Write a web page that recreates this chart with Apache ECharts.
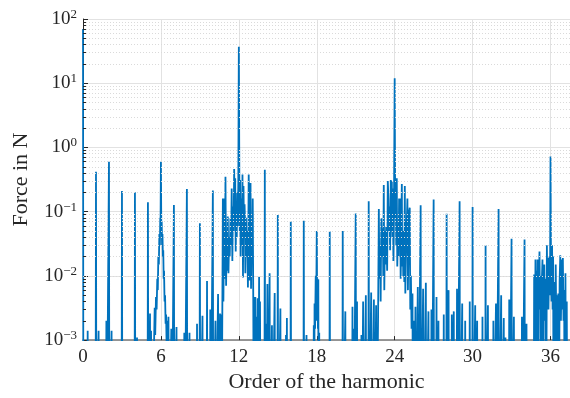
<!DOCTYPE html>
<html><head><meta charset="utf-8">
<script src="https://cdn.jsdelivr.net/npm/echarts@6/dist/echarts.min.js"></script>
<style>html,body{margin:0;padding:0;background:#fff}#c{width:570px;height:398px}</style>
</head><body><div id="c"></div>
<script>
const F = 1e-5; // below the axis floor (clipped)
const xTickStep = 6;
const xMax = 37.5;
const yMin = 0.001, yMax = 100;

// [order of harmonic, force in N]
const bandLow = [[0,70],[0.03,F],[0.33,F],[0.36,0.0014],[0.39,F],[0.97,F],[1,0.42],[1.03,F],[1.17,F],[1.2,0.0014],[1.23,F],
 [1.77,F],[1.8,0.002],[1.83,F],[1.97,F],[2,0.6],[2.03,F],[2.17,F],[2.2,0.0014],[2.23,F],[2.97,F],[3,0.21],[3.03,F],
 [3.97,F],[4,0.2],[4.03,F],[4.13,F],[4.16,0.0011],[4.19,F],[4.97,F],[5,0.14],[5.03,F]];
const band6 = [[5.13,F],[5.16,0.0026],[5.19,F],[5.24,0.0014],[5.3,F],[5.45,F],[5.52,0.0032],[5.56,0.0012],[5.62,0.0047],
 [5.67,0.003],[5.72,0.009],[5.76,0.006],[5.8,0.02],[5.84,0.015],[5.88,0.045],[5.92,0.03],[5.95,0.08],[5.97,0.06],[6,0.6],
 [6.03,0.05],[6.06,0.07],[6.09,0.03],[6.12,0.045],[6.15,0.02],[6.18,0.025],[6.21,0.009],[6.24,0.012],[6.28,0.004],[6.32,0.005],
 [6.36,0.0018],[6.4,0.0025],[6.44,0.0008],[6.48,0.002],[6.52,F],[6.58,0.0023],[6.62,F],[6.76,F],[6.8,0.0015],[6.84,F]];
const bandMid = [[6.97,F],[7,0.127],[7.03,F],[7.17,F],[7.2,0.0016],[7.23,F],[7.77,F],[7.8,0.0013],[7.83,F],[7.97,F],[8,0.225],[8.03,F],
 [8.17,F],[8.2,0.0013],[8.23,F],[8.75,F],[8.78,0.0018],[8.81,F],[8.97,F],[9,0.066],[9.03,F],[9.17,F],[9.2,0.0024],[9.23,F],
 [9.52,F],[9.55,0.0083],[9.58,F],[9.77,F],[9.8,0.003],[9.83,F],[9.97,F],[10,0.214],[10.03,F],[10.17,F],[10.2,0.002],[10.23,F],
 [10.37,F],[10.4,0.0052],[10.44,F],[10.52,F],[10.55,0.0026],[10.59,F],[10.63,0.0025],[10.67,F]];
const band12 = [[10.74,F],[10.77,0.16],[10.81,0.004],[10.88,0.16],[10.92,0.009],[10.97,0.35],[11.02,0.007],[11.06,0.05],[11.1,0.012],
 [11.15,0.084],[11.2,0.011],[11.25,0.04],[11.3,0.02],[11.35,0.079],[11.4,0.03],[11.45,0.23],[11.5,0.017],[11.55,0.12],[11.6,0.05],
 [11.64,0.46],[11.68,0.08],[11.72,0.33],[11.76,0.024],[11.8,0.1],[11.84,0.04],[11.88,0.2],[11.92,0.06],[11.96,0.3],[12,37],
 [12.04,0.3],[12.07,0.05],[12.1,0.31],[12.14,0.02],[12.18,0.16],[12.22,0.03],[12.28,0.38],[12.32,0.0094],[12.36,0.25],[12.4,0.04],
 [12.44,0.13],[12.47,0.079],[12.5,0.011],[12.55,0.08],[12.6,0.02],[12.65,0.05],[12.7,0.0066],[12.76,0.38],[12.8,0.0085],[12.86,0.1],
 [12.9,0.28],[12.94,0.0063],[12.98,0.05],[13.03,0.02],[13.07,0.16],[13.11,0.0047],[13.16,F],[13.2,0.0047],[13.23,F],[13.27,0.0047],
 [13.31,F],[13.35,0.0023],[13.39,F],[13.45,0.0045],[13.49,F],[13.56,0.0096],[13.6,F],[13.63,0.004],[13.67,F]];
const band18 = [[13.97,F],[14,0.45],[14.03,F],[14.05,F],[14.08,0.0018],[14.11,F],[14.17,F],[14.2,0.0075],[14.23,F],[14.34,F],[14.37,0.011],
 [14.4,F],[14.52,F],[14.55,0.0017],[14.58,F],[14.73,F],[14.76,0.0054],[14.79,F],[14.97,F],[15,0.089],[15.03,F],[15.17,F],[15.2,0.0031],
 [15.23,F],[15.6,F],[15.63,0.0012],[15.67,F],[15.7,0.0022],[15.73,F],[15.97,F],[16,0.07],[16.03,F],[16.97,F],[17,0.072],[17.03,F],
 [17.18,F],[17.21,0.0012],[17.24,F],[17.74,F],[17.77,0.0017],[17.8,F],[17.83,0.0037],[17.87,0.0015],[17.92,0.01],[17.95,0.002],
 [18,0.05],[18.03,0.003],[18.06,0.009],[18.09,0.0015],[18.12,0.0088],[18.15,F],[18.19,0.0013],[18.22,F],[18.97,F],[19,0.049],[19.03,F],
 [19.97,F],[20,0.05],[20.03,F],[20.17,F],[20.2,0.0028],[20.23,F],[20.72,F],[20.75,0.0033],[20.78,F],[20.82,0.0015],[20.85,F],
 [20.97,F],[21,0.094],[21.03,F],[21.07,F],[21.1,0.004],[21.13,F],[21.41,F],[21.44,0.0012],[21.47,F],[21.54,F],[21.57,0.004],[21.6,F],
 [21.75,F],[21.78,0.005],[21.81,F],[21.97,F],[22,0.145],[22.03,F]];
const band24 = [[22.16,F],[22.19,0.0055],[22.23,F],[22.37,F],[22.4,0.0043],[22.44,F],[22.54,F],[22.57,0.0035],[22.61,F],[22.72,0.002],
 [22.78,0.11],[22.82,0.009],[22.88,0.03],[22.92,0.004],[22.97,0.079],[23.02,0.02],[23.09,0.055],[23.12,0.01],[23.16,0.26],[23.2,0.006],
 [23.25,0.05],[23.3,0.015],[23.34,0.058],[23.38,0.03],[23.42,0.012],[23.47,0.3],[23.52,0.16],[23.56,0.05],[23.6,0.12],[23.65,0.025],
 [23.7,0.31],[23.74,0.05],[23.78,0.3],[23.82,0.04],[23.86,0.23],[23.9,0.017],[23.94,0.08],[24,12],[24.04,0.08],[24.08,0.18],[24.12,0.03],
 [24.16,0.33],[24.2,0.014],[24.25,0.05],[24.3,0.02],[24.34,0.16],[24.38,0.05],[24.42,0.16],[24.46,0.009],[24.5,0.03],[24.55,0.27],
 [24.58,0.014],[24.62,0.05],[24.66,0.01],[24.7,0.05],[24.74,0.008],[24.78,0.25],[24.82,0.0053],[24.88,0.04],[24.93,0.066],[24.98,0.16],
 [25.02,0.006],[25.06,0.03],[25.11,0.1],[25.16,0.115],[25.2,0.003],[25.25,0.01],[25.3,0.0015],[25.37,0.0053],[25.41,F],[25.47,0.002],
 [25.52,F],[25.6,0.0033],[25.64,F],[25.75,F],[25.78,0.0067],[25.82,F]];
const band30 = [[25.97,F],[26,0.126],[26.03,F],[26.16,F],[26.19,0.0063],[26.22,F],[26.37,F],[26.4,0.0078],[26.43,F],[26.57,F],[26.6,0.0028],
 [26.63,F],[26.8,F],[26.83,0.003],[26.86,F],[26.97,F],[27,0.155],[27.03,F],[27.19,F],[27.22,0.0047],[27.25,F],[27.34,F],[27.37,0.002],
 [27.4,F],[27.75,F],[27.78,0.0025],[27.81,F],[27.97,F],[28,0.093],[28.03,F],[28.12,F],[28.15,0.006],[28.18,F],[28.37,F],[28.4,0.0025],
 [28.43,F],[28.52,F],[28.55,0.0028],[28.58,F],[28.77,F],[28.8,0.0063],[28.83,F],[28.97,F],[29,0.145],[29.03,F],[29.17,F],[29.2,0.0037],
 [29.23,F],[29.4,F],[29.43,0.002],[29.46,F],[29.75,F],[29.78,0.004],[29.81,F],[29.97,F],[30,0.118],[30.03,F],[30.17,F],[30.2,0.0035],
 [30.23,F],[30.32,F],[30.35,0.002],[30.38,F],[30.73,F],[30.76,0.0023],[30.79,F],[30.97,F],[31,0.03],[31.03,F],[31.15,F],[31.18,0.0035],
 [31.21,F],[31.57,F],[31.6,0.002],[31.63,F],[31.77,F],[31.8,0.0037],[31.83,F],[31.97,F],[32,0.11],[32.03,F],[32.17,F],[32.2,0.005],
 [32.23,F],[32.37,F],[32.4,0.0022],[32.43,F],[32.5,F],[32.53,0.0011],[32.56,F],[32.79,F],[32.82,0.0043],[32.85,F],[32.97,F],[33,0.038],
 [33.03,F],[33.15,F],[33.18,0.0023],[33.21,F],[33.77,F],[33.8,0.0023],[33.83,F],[33.97,F],[34,0.037],[34.03,F],[34.12,F],[34.15,0.0018],[34.18,F]];
const band36 = [[34.7,F],[34.74,0.0105],[34.77,F],[34.84,0.018],[34.88,0.003],[34.93,0.012],[34.96,F],[35,0.018],[35.03,F],
 [35.1,0.006],[35.15,0.024],[35.19,0.003],[35.24,0.01],[35.27,F],[35.33,0.008],[35.38,0.018],[35.42,F],[35.47,0.004],[35.52,0.015],
 [35.56,0.002],[35.62,0.009],[35.66,F],[35.72,0.03],[35.76,0.004],[35.8,0.019],[35.84,0.003],[35.88,0.01],[35.92,0.02],[35.96,0.005],
 [36,0.72],[36.04,0.008],[36.08,0.004],[36.12,0.03],[36.16,0.003],[36.2,0.02],[36.24,F],[36.3,0.008],[36.34,F],[36.4,0.015],
 [36.44,0.002],[36.5,0.005],[36.54,F],[36.6,0.0053],[36.64,F],[36.7,0.008],[36.75,0.021],[36.8,0.002],[36.86,0.018],[36.9,0.003],
 [36.95,0.019],[37,0.002],[37.05,0.006],[37.09,F],[37.15,0.011],[37.2,F],[37.25,0.004],[37.3,F],[37.5,F]];

const spectrum = [].concat(bandLow, band6, bandMid, band12, band18, band24, band30, band36);

const TXT = '#262626';
const FONT = 'Liberation Serif';

// minor (dotted) log grid lines and minor ticks
const minorGrid = [], minorTicks = [];
for (let d = -3; d < 2; d++) {
  for (let m = 2; m <= 9; m++) {
    const v = m * Math.pow(10, d);
    minorGrid.push({ yAxis: v });
    minorTicks.push([{ coord: [0, v] }, { coord: [0.23, v] }]);
  }
}

const chart = echarts.init(document.getElementById('c'), null, { renderer: 'canvas' });
chart.setOption({
  animation: false,
  backgroundColor: '#fff',
  grid: { left: 83, right: 0, top: 19, bottom: 54, containLabel: false },
  xAxis: {
    type: 'value', min: 0, max: xMax, interval: xTickStep,
    name: 'Order of the harmonic', nameLocation: 'middle', nameGap: 29,
    nameTextStyle: { color: TXT, fontFamily: FONT, fontSize: 22 },
    axisLine: { show: true, onZero: false, lineStyle: { color: '#7a7a7a', width: 1.5 } },
    axisTick: { show: true, inside: true, length: 4, lineStyle: { color: TXT, width: 1 } },
    axisLabel: { showMaxLabel: false, color: TXT, fontFamily: FONT, fontSize: 19, margin: 7 },
    splitLine: { show: true, lineStyle: { color: '#e2e2e2', width: 1 } }
  },
  yAxis: {
    type: 'log', logBase: 10, min: yMin, max: yMax,
    name: 'Force in N', nameLocation: 'middle', nameGap: 51, nameRotate: 90,
    nameTextStyle: { color: TXT, fontFamily: FONT, fontSize: 22 },
    axisLine: { show: true, lineStyle: { color: TXT, width: 1 } },
    axisTick: { show: true, inside: true, length: 5, lineStyle: { color: TXT } },
    axisLabel: {
      margin: 6,
      formatter: v => {
        const e = Math.round(Math.log10(v));
        return '{b|10}{e|' + (e < 0 ? '\u2212' + (-e) : e) + '}';
      },
      rich: {
        b: { fontSize: 19, fontFamily: FONT, color: TXT },
        e: { fontSize: 13, fontFamily: FONT, color: TXT, verticalAlign: 'bottom', padding: [0, 0, 9, 0] }
      }
    },
    splitLine: { show: true, lineStyle: { color: '#e2e2e2', width: 1 } }
  },
  series: [
    {
      type: 'line', data: [], z: 1, silent: true,
      markLine: {
        silent: true, symbol: 'none', label: { show: false }, animation: false,
        lineStyle: { color: '#dadada', type: [1, 2], width: 1 },
        data: minorGrid
      }
    },
    {
      type: 'line', data: [], z: 4, silent: true,
      markLine: {
        silent: true, symbol: 'none', label: { show: false }, animation: false,
        lineStyle: { color: TXT, type: 'solid', width: 1 },
        data: minorTicks
      }
    },
    {
      type: 'line', data: spectrum, z: 3, showSymbol: false, symbol: 'none', clip: true,
      lineStyle: { color: '#0072BD', width: 1.8 }
    }
  ]
});
</script></body></html>
